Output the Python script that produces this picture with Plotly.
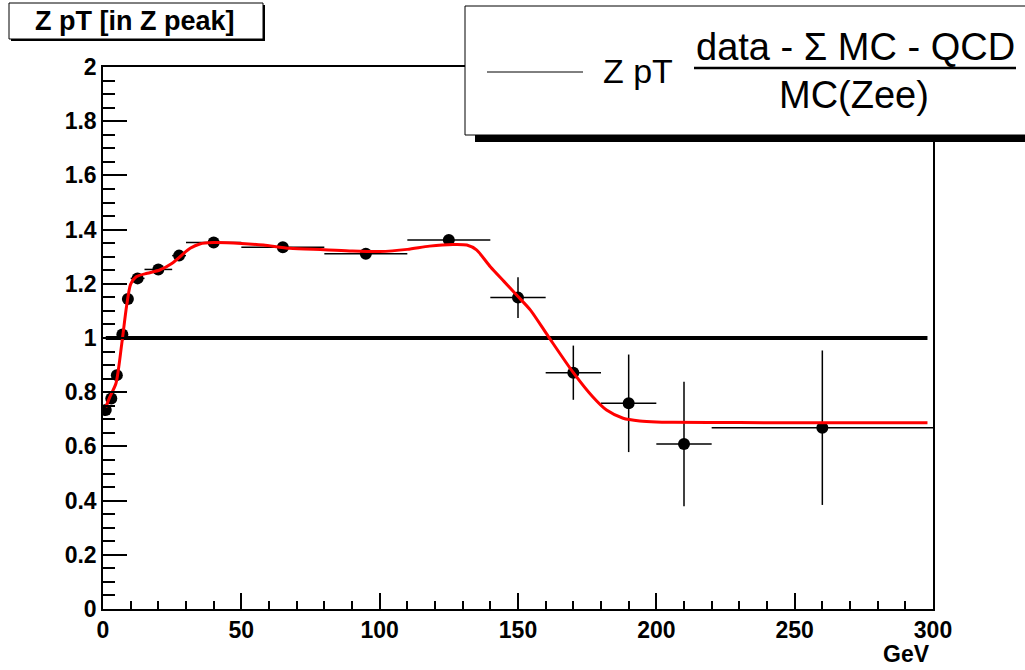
import plotly.graph_objects as go

# ---------------- data ----------------
x_center = [1, 3, 5, 7, 9, 12.5, 20, 27.5, 40, 65, 95, 125, 150, 170, 190, 210, 260]
x_halfwidth = [1, 1, 1, 1, 1, 2.5, 5, 2.5, 10, 15, 15, 15, 10, 10, 10, 10, 40]
ratio = [0.734, 0.777, 0.863, 1.013, 1.144, 1.220, 1.253, 1.304, 1.352, 1.335,
         1.311, 1.362, 1.149, 0.872, 0.759, 0.609, 0.669]
ratio_err = [0.01, 0.01, 0.01, 0.01, 0.01, 0.01, 0.01, 0.01, 0.01, 0.01,
             0.01, 0.015, 0.075, 0.10, 0.18, 0.23, 0.285]

fit_x = [1, 2.5, 4.7, 6.8, 8.5, 10, 12, 16, 20.5, 25, 28.5, 31.5, 35, 40, 50, 58,
         67.5, 80, 90, 100, 110, 118, 126.5, 131.5, 135, 140, 145, 150, 154.5,
         161, 170, 177, 182, 188, 194, 200, 206, 230, 260, 298]
fit_y = [0.745, 0.783, 0.833, 0.98, 1.116, 1.199, 1.226, 1.239, 1.251, 1.276,
         1.306, 1.331, 1.347, 1.352, 1.349, 1.343, 1.331, 1.326, 1.321, 1.319,
         1.327, 1.339, 1.345, 1.343, 1.325, 1.263, 1.208, 1.153, 1.103, 1.005,
         0.872, 0.783, 0.734, 0.704, 0.694, 0.690, 0.689, 0.688, 0.687, 0.687]

ref_x = [1, 298]
ref_y = [1, 1]

x_ticks = [0, 50, 100, 150, 200, 250, 300]
y_ticks = [0, 0.2, 0.4, 0.6, 0.8, 1, 1.2, 1.4, 1.6, 1.8, 2]
y_ticklabels = ["0", "0.2", "0.4", "0.6", "0.8", "1", "1.2", "1.4", "1.6", "1.8", "2"]

title_text = "Z pT [in Z peak]"
legend_label = "Z pT"
frac_num = "data - Σ MC - QCD"
frac_den = "MC(Zee)"
x_unit = "GeV"

# ---------------- geometry helpers (pixels -> paper) ----------------
W, H = 1025, 670
L, R, T, B = 103, 933, 67, 609


def px(x):
    return (x - L) / (R - L)


def py(y):
    return (B - y) / (B - T)


FONT = "Liberation Sans, Arial, Helvetica, sans-serif"

fig = go.Figure()

fig.add_trace(go.Scatter(
    x=ref_x, y=ref_y, mode="lines",
    line=dict(color="black", width=4), showlegend=False, hoverinfo="skip"))

fig.add_trace(go.Scatter(
    x=x_center, y=ratio, mode="markers",
    marker=dict(color="black", size=12),
    error_x=dict(type="data", array=x_halfwidth, color="black", thickness=1.5, width=0),
    error_y=dict(type="data", array=ratio_err, color="black", thickness=1.5, width=0),
    showlegend=False))

fig.add_trace(go.Scatter(
    x=fit_x, y=fit_y, mode="lines",
    line=dict(color="red", width=3, shape="spline", smoothing=0.7),
    showlegend=False, hoverinfo="skip"))

axis_common = dict(
    showgrid=False, zeroline=False, showline=True, mirror=True,
    linecolor="black", linewidth=1.5,
    ticks="inside", tickcolor="black", tickwidth=1.5,
    tickfont=dict(family=FONT, size=23, color="black", weight="bold"),
)

fig.update_xaxes(
    range=[0, 300], tickvals=x_ticks, ticklen=16,
    minor=dict(dtick=10, ticklen=8, ticks="inside", tickcolor="black", tickwidth=1.5),
    **axis_common)
fig.update_yaxes(
    range=[0, 2], tickvals=y_ticks, ticktext=y_ticklabels, ticklen=24,
    minor=dict(dtick=0.05, ticklen=12, ticks="inside", tickcolor="black", tickwidth=1.5),
    **axis_common)

shapes = []
# title box (with small shadow)
shapes.append(dict(type="rect", xref="paper", yref="paper", layer="above",
                   x0=px(11), x1=px(265), y0=py(41), y1=py(5),
                   fillcolor="black", line=dict(width=0)))
shapes.append(dict(type="rect", xref="paper", yref="paper", layer="above",
                   x0=px(9), x1=px(263), y0=py(39), y1=py(3),
                   fillcolor="white", line=dict(color="black", width=1)))
# legend box with shadow
shapes.append(dict(type="rect", xref="paper", yref="paper", layer="above",
                   x0=px(475), x1=px(1040), y0=py(142), y1=py(16),
                   fillcolor="black", line=dict(width=0)))
shapes.append(dict(type="rect", xref="paper", yref="paper", layer="above",
                   x0=px(465), x1=px(1035), y0=py(135), y1=py(6),
                   fillcolor="white", line=dict(color="black", width=1)))
# legend sample line
shapes.append(dict(type="line", xref="paper", yref="paper", layer="above",
                   x0=px(487), x1=px(583), y0=py(72), y1=py(72),
                   line=dict(color="black", width=1)))
# fraction bar
shapes.append(dict(type="line", xref="paper", yref="paper", layer="above",
                   x0=px(694), x1=px(1016), y0=py(68), y1=py(68),
                   line=dict(color="black", width=2.5)))
fig.update_layout(shapes=shapes)

annotations = [
    dict(text=title_text, x=px(135), y=py(21), xref="paper", yref="paper",
         showarrow=False, xanchor="center", yanchor="middle",
         font=dict(family=FONT, size=27, color="black", weight="bold")),
    dict(text=legend_label, x=px(638), y=py(71), xref="paper", yref="paper",
         showarrow=False, xanchor="center", yanchor="middle",
         font=dict(family=FONT, size=34, color="black")),
    dict(text=frac_num, x=px(855), y=py(47), xref="paper", yref="paper",
         showarrow=False, xanchor="center", yanchor="middle",
         font=dict(family=FONT, size=38, color="black")),
    dict(text=frac_den, x=px(854), y=py(95), xref="paper", yref="paper",
         showarrow=False, xanchor="center", yanchor="middle",
         font=dict(family=FONT, size=38, color="black")),
    dict(text=x_unit, x=px(932), y=py(654), xref="paper", yref="paper",
         showarrow=False, xanchor="right", yanchor="middle",
         font=dict(family=FONT, size=23, color="black", weight="bold")),
]
fig.update_layout(annotations=annotations)

fig.update_layout(
    width=W, height=H,
    margin=dict(l=L, r=W - R, t=T, b=H - B, pad=0),
    paper_bgcolor="white", plot_bgcolor="white",
    showlegend=False,
)

fig.write_html("out.html", config={"displayModeBar": False},
               post_script="document.body.style.margin='0';")
